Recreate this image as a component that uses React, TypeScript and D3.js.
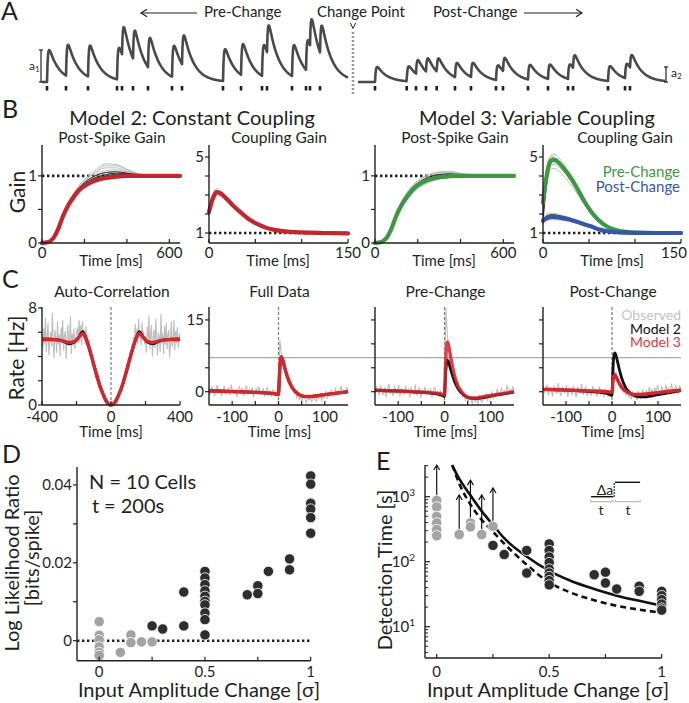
import React from "react";
import * as d3 from "d3";

const FONT = "Lato, 'Open Sans', 'DejaVu Sans', sans-serif";
const INK = "#231f20";
const RED_B = "#c1272d";
const RED_C = "#d3262d";
const GREEN = "#3e9843";
const BLUE = "#3656a6";
const GREY = "#bdbdbd";

// ---------------- Panel A ----------------
const preSpikeTimes = [7, 26, 48, 77, 82, 93, 108, 132, 142, 183, 201, 222, 227, 252, 266, 270, 280];
const postSpikeTimes = [335, 366.7, 376, 386, 396.7, 415, 431, 456, 463, 488, 508, 528, 533, 568, 585, 590];
const preAmplitude = 1;
const postAmplitude = 0.47;
const preWindow = [2, 308];
const postWindow = [318, 625];
const changePointTime = 313;

// ---------------- Panel B ----------------
const tPostSpike = [0, 25, 50, 75, 100, 125, 150, 175, 200, 250, 300, 350, 400, 450, 500, 550, 600, 650];
const m2PostSpikeFit = [0, 0.01, 0.06, 0.2, 0.41, 0.57, 0.69, 0.79, 0.85, 0.93, 0.97, 0.99, 1, 1, 1, 1, 1, 1];
const m2PostSpikeGrey = [
  [0, 0.01, 0.07, 0.22, 0.43, 0.6, 0.74, 0.85, 0.95, 1.08, 1.18, 1.17, 1.1, 1.04, 1.01, 1, 1, 1],
  [0, 0.01, 0.06, 0.21, 0.42, 0.59, 0.72, 0.83, 0.92, 1.04, 1.12, 1.12, 1.07, 1.03, 1.01, 1, 1, 1],
  [0, 0.01, 0.05, 0.19, 0.4, 0.57, 0.7, 0.8, 0.88, 0.98, 1.05, 1.07, 1.05, 1.02, 1.01, 1, 1, 1],
  [0, 0.01, 0.06, 0.2, 0.4, 0.56, 0.68, 0.78, 0.86, 0.95, 1.0, 1.03, 1.03, 1.01, 1, 1, 1, 1],
  [0, 0.01, 0.05, 0.18, 0.38, 0.54, 0.66, 0.76, 0.84, 0.92, 0.97, 1.0, 1.01, 1.01, 1, 1, 1, 1],
  [0, 0.02, 0.08, 0.24, 0.45, 0.62, 0.75, 0.86, 0.94, 1.05, 1.15, 1.15, 1.09, 1.03, 1.01, 1, 1, 1],
  [0, 0.01, 0.05, 0.17, 0.36, 0.52, 0.64, 0.74, 0.82, 0.9, 0.95, 0.98, 1.0, 1.0, 1, 1, 1, 1],
  [0, 0.01, 0.06, 0.21, 0.41, 0.58, 0.71, 0.81, 0.9, 1.01, 1.08, 1.09, 1.06, 1.02, 1.01, 1, 1, 1],
];
const m2PostSpikeBlack = [
  [0, 0.01, 0.06, 0.2, 0.41, 0.58, 0.7, 0.8, 0.88, 0.97, 1.02, 1.04, 1.03, 1.01, 1, 1, 1, 1],
  [0, 0.01, 0.06, 0.2, 0.4, 0.56, 0.68, 0.79, 0.87, 0.96, 1.0, 1.02, 1.02, 1.01, 1, 1, 1, 1],
  [0, 0.01, 0.06, 0.21, 0.42, 0.59, 0.72, 0.82, 0.9, 1.0, 1.05, 1.06, 1.04, 1.02, 1, 1, 1, 1],
  [0, 0.01, 0.05, 0.19, 0.39, 0.55, 0.67, 0.77, 0.85, 0.94, 0.98, 1.0, 1.01, 1.0, 1, 1, 1, 1],
];
const m3PostSpikeFit = [0, 0.01, 0.06, 0.2, 0.41, 0.57, 0.69, 0.79, 0.86, 0.94, 0.98, 0.995, 1, 1, 1, 1, 1, 1];
const m3PostSpikeGrey = [
  [0, 0.01, 0.07, 0.23, 0.44, 0.61, 0.74, 0.84, 0.92, 1.01, 1.06, 1.07, 1.04, 1.02, 1.01, 1, 1, 1],
  [0, 0.01, 0.06, 0.21, 0.42, 0.59, 0.72, 0.82, 0.9, 0.99, 1.04, 1.05, 1.03, 1.01, 1, 1, 1, 1],
  [0, 0.01, 0.05, 0.18, 0.38, 0.54, 0.66, 0.76, 0.83, 0.92, 0.97, 0.99, 1.0, 1.0, 1, 1, 1, 1],
  [0, 0.01, 0.05, 0.17, 0.36, 0.52, 0.64, 0.74, 0.81, 0.9, 0.95, 0.98, 0.99, 1.0, 1, 1, 1, 1],
  [0, 0.02, 0.08, 0.24, 0.46, 0.63, 0.76, 0.86, 0.93, 1.02, 1.05, 1.05, 1.03, 1.01, 1, 1, 1, 1],
  [0, 0.01, 0.06, 0.2, 0.4, 0.56, 0.69, 0.79, 0.87, 0.96, 1.01, 1.03, 1.02, 1.01, 1, 1, 1, 1],
];
const m3PostSpikeBlack = [
  [0, 0.01, 0.06, 0.2, 0.41, 0.58, 0.7, 0.8, 0.87, 0.96, 1.0, 1.02, 1.01, 1.0, 1, 1, 1, 1],
  [0, 0.01, 0.05, 0.19, 0.39, 0.55, 0.67, 0.77, 0.84, 0.93, 0.98, 1.0, 1.01, 1.0, 1, 1, 1, 1],
  [0, 0.01, 0.06, 0.21, 0.43, 0.6, 0.72, 0.82, 0.89, 0.98, 1.02, 1.03, 1.02, 1.01, 1, 1, 1, 1],
];

const tCoupling2 = [0, 4, 8, 12, 18, 26, 35, 44, 53, 62, 72, 85, 100, 125, 150];
const m2CouplingFit = [2.1, 2.8, 3.15, 3.1, 2.85, 2.45, 2.05, 1.7, 1.45, 1.27, 1.15, 1.07, 1.03, 1.0, 0.98];
const m2CouplingGrey = [
  [2.2, 2.95, 3.35, 3.25, 2.95, 2.5, 2.1, 1.72, 1.46, 1.28, 1.16, 1.08, 1.03, 1.0, 0.98],
  [2.0, 2.7, 3.0, 2.98, 2.75, 2.38, 2.0, 1.67, 1.43, 1.26, 1.14, 1.07, 1.03, 1.0, 0.98],
  [2.3, 3.0, 3.25, 3.15, 2.9, 2.5, 2.1, 1.75, 1.49, 1.3, 1.17, 1.08, 1.04, 1.01, 0.99],
  [1.9, 2.6, 2.95, 2.95, 2.8, 2.42, 2.03, 1.68, 1.43, 1.25, 1.13, 1.06, 1.02, 1.0, 0.98],
];
const m2CouplingBlack = [
  [2.1, 2.85, 3.2, 3.12, 2.87, 2.47, 2.06, 1.71, 1.46, 1.28, 1.16, 1.07, 1.03, 1.0, 0.98],
  [2.05, 2.75, 3.1, 3.05, 2.82, 2.43, 2.04, 1.69, 1.44, 1.26, 1.14, 1.06, 1.02, 1.0, 0.98],
];

const tCoupling3 = [0, 3, 6, 10, 14, 20, 28, 36, 44, 52, 60, 70, 80, 90, 100, 125, 150];
const m3PreFit = [2.6, 3.7, 4.5, 4.85, 4.82, 4.55, 4.05, 3.45, 2.75, 2.15, 1.7, 1.33, 1.14, 1.06, 1.02, 1.0, 1.0];
const m3PreGrey = [
  [2.8, 3.9, 4.8, 5.15, 5.1, 4.8, 4.25, 3.6, 2.85, 2.2, 1.72, 1.34, 1.14, 1.06, 1.02, 1.0, 1.0],
  [2.4, 3.5, 4.3, 4.6, 4.58, 4.35, 3.9, 3.3, 2.65, 2.08, 1.66, 1.31, 1.13, 1.05, 1.02, 1.0, 1.0],
  [2.2, 3.3, 4.1, 4.4, 4.38, 4.15, 3.7, 3.15, 2.55, 2.02, 1.62, 1.3, 1.12, 1.05, 1.02, 1.0, 1.0],
  [3.0, 4.1, 4.9, 5.05, 4.95, 4.65, 4.1, 3.5, 2.8, 2.18, 1.7, 1.34, 1.14, 1.06, 1.02, 1.0, 1.0],
];
const m3PreBlack = [
  [1.6, 3.2, 4.4, 4.9, 4.9, 4.6, 4.1, 3.5, 2.8, 2.2, 1.72, 1.35, 1.15, 1.07, 1.03, 1.0, 1.0],
  [1.9, 3.4, 4.5, 4.95, 4.88, 4.55, 4.0, 3.4, 2.7, 2.12, 1.68, 1.32, 1.13, 1.06, 1.02, 1.0, 1.0],
];
const m3PostFit = [1.65, 1.75, 1.82, 1.85, 1.84, 1.8, 1.72, 1.6, 1.47, 1.35, 1.2, 1.09, 1.04, 1.02, 1.01, 1.0, 1.0];
const m3PostGrey = [
  [1.85, 1.95, 2.02, 2.05, 2.02, 1.95, 1.83, 1.68, 1.52, 1.38, 1.23, 1.11, 1.05, 1.02, 1.01, 1.0, 1.0],
  [1.55, 1.62, 1.68, 1.7, 1.7, 1.67, 1.61, 1.52, 1.42, 1.32, 1.18, 1.08, 1.04, 1.02, 1.01, 1.0, 1.0],
];
const m3PostBlack = [
  [1.75, 1.87, 1.94, 1.97, 1.95, 1.89, 1.79, 1.66, 1.51, 1.37, 1.22, 1.1, 1.05, 1.02, 1.01, 1.0, 1.0],
  [1.5, 1.7, 1.85, 1.9, 1.9, 1.85, 1.76, 1.63, 1.49, 1.36, 1.21, 1.1, 1.04, 1.02, 1.01, 1.0, 1.0],
];

// ---------------- Panel C ----------------
const tAuto = [-400, -350, -300, -270, -240, -210, -185, -165, -145, -125, -105, -85, -65, -45, -25, -10, 0,
  10, 25, 45, 65, 85, 105, 125, 145, 165, 185, 210, 240, 270, 300, 350, 400];
const autoModel3 = [5.4, 5.4, 5.35, 5.25, 5.15, 5.25, 5.6, 5.9, 5.45, 4.6, 3.6, 2.55, 1.6, 0.85, 0.25, 0.04, 0,
  0.04, 0.25, 0.85, 1.6, 2.55, 3.6, 4.6, 5.45, 5.9, 5.6, 5.25, 5.15, 5.25, 5.35, 5.4, 5.4];
const autoModel2 = [5.45, 5.42, 5.35, 5.2, 5.05, 5.2, 5.65, 6.05, 5.5, 4.6, 3.6, 2.55, 1.6, 0.85, 0.25, 0.04, 0,
  0.04, 0.25, 0.85, 1.6, 2.55, 3.6, 4.6, 5.5, 6.05, 5.65, 5.2, 5.05, 5.2, 5.35, 5.42, 5.45];
const autoObserved = [
  5.9, 4.6, 6.3, 5.0, 7.2, 4.4, 5.6, 6.8, 4.1, 5.3, 6.0, 4.8, 7.6, 5.1, 3.9, 6.2, 5.5, 4.3, 6.9, 5.0,
  5.8, 4.0, 6.4, 5.2, 7.0, 4.5, 5.7, 6.1, 3.8, 5.4, 6.6, 4.9, 5.3, 7.3, 4.2, 5.9, 5.0, 6.3, 4.6, 5.5, 6.0,
  6.4, 5.1, 7.0, 5.8, 6.6, 4.9, 6.9, 5.5, 6.2, 5.0, 6.5, 5.2, 5.8, 4.7,
  5.4, 4.1, 4.6, 3.2, 4.1, 2.9, 3.5, 2.2, 3.0, 2.0, 2.6, 1.4, 2.0, 1.2,
  1.5, 0.8, 1.2, 0.5, 0.9, 0.3, 0.6, 0.1, 0.3, 0.0, 0.2,
  0.0,
  0.1, 0.3, 0.0, 0.5, 0.2, 0.7, 0.4, 1.0, 0.6, 1.3, 0.9,
  1.6, 1.1, 2.3, 1.7, 2.8, 2.1, 3.4, 2.6, 3.9, 3.0, 4.4, 3.7, 5.0, 4.3,
  5.6, 4.8, 6.7, 5.3, 6.3, 5.0, 7.1, 5.6, 6.0, 4.9, 6.8, 5.4, 6.1, 5.0,
  5.7, 4.3, 6.5, 5.0, 7.4, 4.6, 5.9, 6.6, 4.0, 5.5, 6.2, 4.7, 7.1, 5.3, 4.1, 6.0, 5.6, 4.4, 7.5, 5.1,
  5.9, 4.2, 6.5, 5.0, 6.8, 4.6, 5.8, 6.2, 3.9, 5.4, 6.9, 4.8, 5.2, 7.0, 4.5, 6.1, 5.1, 6.4, 4.7, 5.6, 5.9,
];

const tCross = [-150, -120, -90, -60, -30, -10, -3, 0, 2, 4, 6, 8, 12, 16, 20, 25, 30, 40, 50, 60, 70, 80, 100, 125, 150];
const fullModel3 = [0.2, 0.1, 0.0, -0.1, -0.25, -0.4, -0.55, -0.6, 3.5, 6.4, 7.3, 7.0, 5.6, 4.1, 2.9, 1.7, 0.8, -0.3, -0.85, -1.0, -1.0, -0.9, -0.6, -0.3, 0.0];
const fullModel2 = [0.2, 0.1, 0.0, -0.1, -0.25, -0.42, -0.58, -0.62, 3.4, 6.3, 7.2, 6.95, 5.55, 4.1, 2.9, 1.7, 0.8, -0.3, -0.85, -1.0, -1.0, -0.9, -0.6, -0.3, 0.0];
const preModel3 = [0.3, 0.2, 0.1, 0.0, -0.2, -0.4, -0.6, -0.7, 5.0, 9.0, 10.4, 10.0, 8.0, 5.8, 4.0, 2.3, 1.0, -0.4, -1.1, -1.3, -1.3, -1.1, -0.8, -0.4, 0.0];
const preModel2 = [0.3, 0.2, 0.1, -0.1, -0.3, -0.6, -0.9, -1.0, 3.0, 5.6, 6.6, 6.4, 5.1, 3.8, 2.6, 1.4, 0.5, -0.6, -1.2, -1.4, -1.4, -1.3, -0.9, -0.5, -0.1];
const postModel3 = [0.5, 0.4, 0.3, 0.2, 0.1, 0.0, -0.1, -0.1, 2.0, 3.2, 3.5, 3.3, 2.5, 1.7, 1.1, 0.5, 0.1, -0.4, -0.6, -0.6, -0.5, -0.4, -0.2, 0.1, 0.3];
const postModel2 = [0.5, 0.4, 0.3, 0.1, -0.1, -0.4, -0.7, -0.8, 4.5, 7.4, 8.1, 7.8, 6.3, 4.6, 3.2, 1.8, 0.8, -0.3, -0.9, -1.1, -1.1, -1.0, -0.6, -0.2, 0.2];
const fullObserved = [
  0.8, -0.6, 1.1, 0.2, -0.9, 0.5, 1.4, -0.3, 0.7, -1.0, 0.3, 1.2, -0.5, 0.0, 0.9, -0.8, 1.5, 0.1, -0.4, 0.6,
  -1.1, 0.4, 1.0, -0.2, 0.8, -0.9, 0.2, 1.3, -0.6, 0.5, -0.3, 0.9, -1.2, 0.1, 0.7, -0.5, 1.1, -0.8, 0.0, 0.6,
  -1.0, 0.3, 0.9, -0.7, 0.2, -1.1, 0.5, -0.4, 0.1, -0.9,
  1.5,
  10.8, 8.0, 6.2, 5.8, 3.8, 4.1, 2.5, 2.0, 0.8, 1.2, -0.2, 0.3, -1.2, -0.4, -1.8, -0.6, -2.0, -0.9, -1.5, -2.3,
  -0.7, -1.8, -1.1, -2.2, -0.5, -1.6, -2.0, -0.8, -1.4, -0.3, -1.9, -0.6, -1.2, 0.2, -1.5, -0.4, -0.9, 0.5, -1.1, -0.2,
  0.6, -0.8, 0.3, -0.5, 1.2, -0.3, 0.4, -0.6, 1.0, 0.1,
];
const preObserved = [
  -0.4, 1.0, 0.3, -0.8, 1.3, 0.0, -0.6, 0.9, -1.2, 0.5, 1.6, -0.3, 0.2, -0.9, 1.1, 0.4, -0.5, 1.4, -1.0, 0.7,
  0.1, -0.7, 1.2, -0.2, 0.6, -1.1, 0.9, 0.2, -0.4, 1.5, -0.8, 0.3, 0.8, -1.3, 0.4, -0.1, 1.0, -0.9, 0.5, -0.5,
  0.7, -1.2, 0.2, 0.9, -0.6, -0.1, -1.0, 0.3, -0.8, -0.4,
  2.0,
  17.5, 12.0, 9.5, 8.8, 6.0, 5.5, 3.6, 3.0, 1.4, 1.9, 0.2, 0.8, -1.0, -0.2, -1.9, -0.8, -2.3, -1.0, -1.7, -2.5,
  -0.9, -2.1, -1.3, -2.6, -0.6, -1.8, -2.2, -1.0, -1.5, -0.4, -2.0, -0.7, -1.4, 0.1, -1.6, -0.5, -1.0, 0.6, -1.2, -0.3,
  0.8, -0.7, 0.2, -0.6, 1.4, -0.2, 0.5, -0.5, 1.1, 0.2,
];
const postObserved = [
  1.2, -0.3, 0.6, 1.5, -0.8, 0.9, 0.2, -1.0, 1.3, 0.4, -0.5, 1.8, 0.0, -0.9, 1.0, 0.5, -0.4, 1.4, -1.1, 0.8,
  0.2, -0.6, 1.1, 0.3, -1.2, 0.9, 0.6, -0.3, 1.6, -0.7, 0.4, 1.0, -0.9, 0.5, 0.1, -0.8, 1.2, -0.2, 0.7, -1.0,
  0.4, 0.9, -0.6, 0.2, -1.1, 0.5, -0.3, -0.9, 0.1, -0.6,
  0.8,
  5.5, 3.2, 4.2, 2.0, 2.8, 0.9, 1.6, -0.2, 0.8, -0.9, 0.4, -1.3, -0.2, -1.6, 0.1, -1.1, -0.4, -1.8, 0.2, -0.9,
  -1.4, 0.5, -0.6, -1.2, 0.3, -0.8, 1.0, -0.5, 0.6, -1.0, 0.9, -0.2, 1.4, 0.0, -0.7, 1.1, 0.3, -0.4, 1.5, 0.2,
  0.8, -0.6, 1.7, 0.4, -0.2, 1.2, 0.6, -0.5, 1.3, 0.5,
];
const fullDataPeakRate = 7.1;

// ---------------- Panel D ----------------
const llrGrey: [number, number][] = [
  [0, 0.0049], [0, 0.0014], [0, 0.0002], [0, -0.0016], [0, -0.003], [0, -0.0038],
  [0.1, -0.003], [0.15, 0.0015], [0.15, -0.0005], [0.2, -0.0003], [0.25, -0.0003],
];
const llrBlack: [number, number][] = [
  [0.25, 0.0038], [0.3, 0.003], [0.4, 0.0125], [0.4, 0.0038],
  [0.5, 0.0178], [0.5, 0.0161], [0.5, 0.0144], [0.5, 0.0128], [0.5, 0.0114], [0.5, 0.0101], [0.5, 0.0092],
  [0.5, 0.0071], [0.5, 0.0054], [0.5, 0.0015],
  [0.7, 0.0118], [0.75, 0.0141], [0.75, 0.0121], [0.8, 0.0178], [0.9, 0.021], [0.9, 0.0182],
  [1, 0.0423], [1, 0.0402], [1, 0.0353], [1, 0.0338], [1, 0.0316], [1, 0.0276],
];

// ---------------- Panel E ----------------
const detGrey: [number, number][] = [
  [0, 877], [0, 695], [0, 499], [0, 395], [0, 312], [0, 251],
  [0.1, 262], [0.15, 395], [0.15, 343], [0.2, 262], [0.25, 350],
];
const detBlack: [number, number][] = [
  [0.25, 178], [0.3, 129], [0.4, 149], [0.4, 67],
  [0.5, 188], [0.5, 149], [0.5, 118], [0.5, 97], [0.5, 77], [0.5, 67], [0.5, 59], [0.5, 51], [0.5, 44],
  [0.7, 63], [0.75, 69], [0.75, 47], [0.8, 38], [0.9, 42], [0.9, 35],
  [1, 35], [1, 30], [1, 26], [1, 22.3], [1, 19.3], [1, 18],
];
const lowerBoundArrows: [number, number, number][] = [
  [0, 1000, 3070], [0.1, 262, 1062], [0.15, 420, 1800], [0.2, 262, 1062], [0.25, 360, 1360],
];
const theorySolid: [number, number][] = [
  [0.068, 3070], [0.1, 1900], [0.15, 1050], [0.2, 600], [0.25, 370], [0.3, 230], [0.4, 120], [0.5, 72],
  [0.6, 50], [0.7, 38], [0.8, 30], [0.9, 25], [1.0, 21],
];
const theoryDashed: [number, number][] = [
  [0.07, 3070], [0.1, 1600], [0.15, 760], [0.2, 440], [0.25, 290], [0.3, 190], [0.4, 90], [0.5, 48],
  [0.6, 33], [0.7, 25.5], [0.8, 21], [0.9, 18.3], [1.0, 16.4],
];

// ------------------------------------------------------------
type Scale = d3.ScaleLinear<number, number> | d3.ScaleLogarithmic<number, number>;

function pspTrace(spikes: number[], amp: number, t0: number, t1: number): [number, number][] {
  const tauD = 10, tauR = 0.8;
  const sPeak = ((tauR * tauD) / (tauD - tauR)) * Math.log(tauD / tauR);
  const norm = Math.exp(-sPeak / tauD) - Math.exp(-sPeak / tauR);
  const out: [number, number][] = [];
  for (let t = t0; t <= t1 + 1e-9; t += 0.5) {
    let v = 0;
    for (const s of spikes) {
      const d = t - s;
      if (d > 0) v += (amp * (Math.exp(-d / tauD) - Math.exp(-d / tauR))) / norm;
    }
    out.push([t, v]);
  }
  return out;
}

function series(xs: Scale, ys: Scale, ts: number[], vs: number[], curve: d3.CurveFactory = d3.curveMonotoneX) {
  return d3.line<number>().x((_, i) => xs(ts[i])).y((v) => ys(v)).curve(curve)(vs) ?? "";
}
function pairs(xs: Scale, ys: Scale, pts: [number, number][], curve: d3.CurveFactory = d3.curveMonotoneX) {
  return d3.line<[number, number]>().x((d) => xs(d[0])).y((d) => ys(d[1])).curve(curve)(pts) ?? "";
}

function XAxis({ scale, y, ticks, labels, dy = 16, fs = 15, lastEnd }: { scale: Scale; y: number; ticks: number[]; labels: [number, string][]; dy?: number; fs?: number; lastEnd?: number }) {
  const [r0, r1] = scale.range();
  return (
    <g>
      <line x1={r0} x2={r1} y1={y} y2={y} stroke={INK} strokeWidth={1.4} />
      {ticks.map((t) => (
        <line key={t} x1={scale(t)} x2={scale(t)} y1={y} y2={y - 4} stroke={INK} strokeWidth={1.2} />
      ))}
      {labels.map(([v, s], i) =>
        lastEnd !== undefined && i === labels.length - 1 ? (
          <text key={s} x={lastEnd} y={y + dy} textAnchor="end" fontSize={fs} fill={INK}>{s}</text>
        ) : (
          <text key={s} x={scale(v)} y={y + dy} textAnchor="middle" fontSize={fs} fill={INK}>{s}</text>
        )
      )}
    </g>
  );
}

function YAxis({ scale, x, ticks, labels, fs = 15 }: { scale: Scale; x: number; ticks: number[]; labels: [number, string][]; fs?: number }) {
  const [r0, r1] = scale.range();
  return (
    <g>
      <line x1={x} x2={x} y1={r0} y2={r1} stroke={INK} strokeWidth={1.4} />
      {ticks.map((t) => (
        <line key={t} x1={x - 4} x2={x} y1={scale(t)} y2={scale(t)} stroke={INK} strokeWidth={1.2} />
      ))}
      {labels.map(([v, s]) => (
        <text key={s} x={x - 5} y={scale(v) + 5} textAnchor="end" fontSize={fs} fill={INK}>{s}</text>
      ))}
    </g>
  );
}

function Bundle({ xs, ys, ts, grey, black, fit, color }: { xs: Scale; ys: Scale; ts: number[]; grey: number[][]; black: number[][]; fit: number[]; color: string }) {
  return (
    <g fill="none">
      {grey.map((g, i) => (
        <path key={"g" + i} d={series(xs, ys, ts, g)} stroke="#b5b5b5" strokeWidth={0.9} />
      ))}
      {black.map((g, i) => (
        <path key={"b" + i} d={series(xs, ys, ts, g)} stroke="#262626" strokeWidth={1} />
      ))}
      <path d={series(xs, ys, ts, fit)} stroke={color} strokeWidth={4.2} strokeLinecap="round" />
    </g>
  );
}

function Sup({ x, y, base, exp }: { x: number; y: number; base: string; exp: string }) {
  return (
    <text x={x} y={y} textAnchor="end" fontSize={15} fill={INK}>
      {base}
      <tspan fontSize={10} dy={-6}>{exp}</tspan>
    </text>
  );
}

export default function App() {
  // ---- Panel A scales
  const xA = d3.scaleLinear().domain([0, 625]).range([40, 665]);
  const yA = d3.scaleLinear().domain([0, 1]).range([82, 50]);
  const preTrace = pspTrace(preSpikeTimes, preAmplitude, preWindow[0], preWindow[1]);
  const postTrace = pspTrace(postSpikeTimes, postAmplitude, postWindow[0], postWindow[1]);
  const lineA = d3.line<[number, number]>().x((d) => xA(d[0])).y((d) => yA(d[1]));

  // ---- Panel B scales
  const xB1 = d3.scaleLinear().domain([0, 650]).range([42, 180]);
  const xB2 = d3.scaleLinear().domain([0, 150]).range([209, 348]);
  const xB3 = d3.scaleLinear().domain([0, 650]).range([375, 514]);
  const xB4 = d3.scaleLinear().domain([0, 150]).range([543, 681]);
  const yBg = d3.scaleLinear().domain([0, 1.46]).range([243, 145]);
  const yBc = d3.scaleLinear().domain([0.474, 5.632]).range([243, 145]);

  // ---- Panel C scales
  const xC1 = d3.scaleLinear().domain([-400, 400]).range([42, 180]);
  const xC2 = d3.scaleLinear().domain([-150, 150]).range([209, 348]);
  const xC3 = d3.scaleLinear().domain([-150, 150]).range([375, 514]);
  const xC4 = d3.scaleLinear().domain([-150, 150]).range([543, 681]);
  const yC1 = d3.scaleLinear().domain([0, 8.08]).range([405, 307]);
  const yCx = d3.scaleLinear().domain([-2.78, 17.7]).range([405, 307]);
  const tAutoObs = autoObserved.map((_, i) => -400 + (i * 800) / (autoObserved.length - 1));
  const tCrossObs = fullObserved.map((_, i) => -150 + (i * 300) / (fullObserved.length - 1));

  // ---- Panel D scales
  const xD = d3.scaleLinear().domain([-0.105, 1]).range([77, 310.7]);
  const yD = d3.scaleLinear().domain([-0.00514, 0.0446]).range([660.7, 467]);

  // ---- Panel E scales
  const xE = d3.scaleLinear().domain([-0.052, 1]).range([425, 661.7]);
  const yE = d3.scaleLog().domain([Math.pow(10, 0.518), Math.pow(10, 3.488)]).range([658, 465]);
  const minorE: number[] = [];
  [1, 10, 100, 1000].forEach((d) => {
    for (let k = 2; k <= 9; k++) {
      const v = d * k;
      if (v >= yE.domain()[0] && v <= yE.domain()[1]) minorE.push(v);
    }
  });

  const crossPanels = [
    { xs: xC2, obs: fullObserved, m2: fullModel2, m3: fullModel3, title: "Full Data" },
    { xs: xC3, obs: preObserved, m2: preModel2, m3: preModel3, title: "Pre-Change" },
    { xs: xC4, obs: postObserved, m2: postModel2, m3: postModel3, title: "Post-Change" },
  ];

  const dotLine = { stroke: INK, strokeWidth: 2.6, strokeDasharray: "2.4 2.6", fill: "none" } as const;

  return (
    <svg width={689} height={703} style={{ position: "absolute", left: 0, top: 0, background: "#fff" }} fontFamily={FONT}>
      <rect x={0} y={0} width={689} height={703} fill="#fff" />

      {/* ================= A ================= */}
      <text x={1} y={20} fontSize={25} fill={INK}>A</text>
      <line x1={141} x2={197} y1={13} y2={13} stroke={INK} strokeWidth={1.2} />
      <polyline points="147,9.3 141,13 147,16.7" fill="none" stroke={INK} strokeWidth={1.2} />
      <text x={204} y={17} fontSize={15} fill={INK}>Pre-Change</text>
      <text x={xA(changePointTime) + 8} y={17} fontSize={15} textAnchor="middle" fill={INK}>Change Point</text>
      <polyline points={`${xA(changePointTime) - 2.6},23 ${xA(changePointTime)},28.5 ${xA(changePointTime) + 2.6},23`} fill="none" stroke={INK} strokeWidth={1} />
      <text x={433} y={17} fontSize={15} fill={INK}>Post-Change</text>
      <line x1={524} x2={582} y1={13} y2={13} stroke={INK} strokeWidth={1.2} />
      <polyline points="576,9.3 582,13 576,16.7" fill="none" stroke={INK} strokeWidth={1.2} />
      <line x1={xA(changePointTime)} x2={xA(changePointTime)} y1={32} y2={96} stroke="#9a9a9a" strokeWidth={2.6} strokeDasharray="2 2" />
      <path d={lineA(preTrace) ?? ""} fill="none" stroke="#4a4a4a" strokeWidth={2.6} strokeLinejoin="round" />
      <path d={lineA(postTrace) ?? ""} fill="none" stroke="#4a4a4a" strokeWidth={2.6} strokeLinejoin="round" />
      {preSpikeTimes.concat(postSpikeTimes).map((t, i) => (
        <rect key={i} x={xA(t) - 1.3} y={86} width={2.6} height={4.5} fill={INK} />
      ))}
      {/* amplitude brackets */}
      <g stroke={INK} strokeWidth={1.2}>
        <line x1={xA(1)} x2={xA(1)} y1={yA(0)} y2={yA(preAmplitude)} />
        <line x1={xA(1) - 2} x2={xA(1) + 2} y1={yA(0)} y2={yA(0)} />
        <line x1={xA(1) - 2} x2={xA(1) + 2} y1={yA(preAmplitude)} y2={yA(preAmplitude)} />
        <line x1={xA(626)} x2={xA(626)} y1={yA(0)} y2={yA(postAmplitude)} />
        <line x1={xA(626) - 2} x2={xA(626) + 2} y1={yA(0)} y2={yA(0)} />
        <line x1={xA(626) - 2} x2={xA(626) + 2} y1={yA(postAmplitude)} y2={yA(postAmplitude)} />
      </g>
      <text x={29} y={70} fontSize={12} fill={INK}>a<tspan fontSize={8} dy={2}>1</tspan></text>
      <text x={671} y={77} fontSize={12} fill={INK}>a<tspan fontSize={8} dy={2}>2</tspan></text>

      {/* ================= B ================= */}
      <text x={2} y={118} fontSize={25} fill={INK}>B</text>
      <text x={192} y={125} fontSize={20} textAnchor="middle" fill={INK}>Model 2: Constant Coupling</text>
      <text x={537} y={125} fontSize={20} textAnchor="middle" fill={INK}>Model 3: Variable Coupling</text>
      <text x={112} y={143} fontSize={15.5} textAnchor="middle" fill={INK}>Post-Spike Gain</text>
      <text x={279} y={143} fontSize={15.5} textAnchor="middle" fill={INK}>Coupling Gain</text>
      <text x={455} y={143} fontSize={15.5} textAnchor="middle" fill={INK}>Post-Spike Gain</text>
      <text x={625} y={143} fontSize={15.5} textAnchor="middle" fill={INK}>Coupling Gain</text>
      <text transform="translate(25,192) rotate(-90)" fontSize={21} textAnchor="middle" fill={INK}>Gain</text>

      {/* B1 */}
      <line x1={xB1(0)} x2={xB1(650)} y1={yBg(1)} y2={yBg(1)} {...dotLine} />
      <Bundle xs={xB1} ys={yBg} ts={tPostSpike} grey={m2PostSpikeGrey} black={m2PostSpikeBlack} fit={m2PostSpikeFit} color={RED_B} />
      <YAxis scale={yBg} x={42} ticks={[0, 0.5, 1]} labels={[[0, "0"], [1, "1"]]} />
      <XAxis scale={xB1} y={243} ticks={[0, 200, 400, 600]} labels={[[0, "0"], [600, "600"]]} dy={15} />
      <text x={111} y={266} fontSize={15} textAnchor="middle" fill={INK}>Time [ms]</text>

      {/* B2 */}
      <line x1={xB2(0)} x2={xB2(150)} y1={yBc(1)} y2={yBc(1)} {...dotLine} />
      <Bundle xs={xB2} ys={yBc} ts={tCoupling2} grey={m2CouplingGrey} black={m2CouplingBlack} fit={m2CouplingFit} color={RED_B} />
      <YAxis scale={yBc} x={209} ticks={[1, 2, 3, 4, 5]} labels={[[1, "1"], [5, "5"]]} />
      <XAxis scale={xB2} y={243} ticks={[0, 50, 100, 150]} labels={[[0, "0"], [150, "150"]]} dy={15} />
      <text x={278} y={266} fontSize={15} textAnchor="middle" fill={INK}>Time [ms]</text>

      {/* B3 */}
      <line x1={xB3(0)} x2={xB3(650)} y1={yBg(1)} y2={yBg(1)} {...dotLine} />
      <Bundle xs={xB3} ys={yBg} ts={tPostSpike} grey={m3PostSpikeGrey} black={m3PostSpikeBlack} fit={m3PostSpikeFit} color={GREEN} />
      <YAxis scale={yBg} x={375} ticks={[0, 0.5, 1]} labels={[[0, "0"], [1, "1"]]} />
      <XAxis scale={xB3} y={243} ticks={[0, 200, 400, 600]} labels={[[0, "0"], [600, "600"]]} dy={15} />
      <text x={444} y={266} fontSize={15} textAnchor="middle" fill={INK}>Time [ms]</text>

      {/* B4 */}
      <line x1={xB4(0)} x2={xB4(150)} y1={yBc(1)} y2={yBc(1)} {...dotLine} />
      <Bundle xs={xB4} ys={yBc} ts={tCoupling3} grey={m3PreGrey} black={m3PreBlack} fit={m3PreFit} color={GREEN} />
      <Bundle xs={xB4} ys={yBc} ts={tCoupling3} grey={m3PostGrey} black={m3PostBlack} fit={m3PostFit} color={BLUE} />
      <YAxis scale={yBc} x={543} ticks={[1, 2, 3, 4, 5]} labels={[[1, "1"], [5, "5"]]} />
      <XAxis scale={xB4} y={243} ticks={[0, 50, 100, 150]} labels={[[0, "0"], [150, "150"]]} dy={15} lastEnd={687} />
      <text x={612} y={266} fontSize={15} textAnchor="middle" fill={INK}>Time [ms]</text>
      <text x={680} y={177} fontSize={15} textAnchor="end" fill={GREEN}>Pre-Change</text>
      <text x={680} y={192} fontSize={15} textAnchor="end" fill={BLUE}>Post-Change</text>

      {/* ================= C ================= */}
      <text x={2} y={288} fontSize={25} fill={INK}>C</text>
      <text x={112} y={297} fontSize={15.5} textAnchor="middle" fill={INK}>Auto-Correlation</text>
      {crossPanels.map((p) => (
        <text key={p.title} x={p.xs(0) + 1} y={297} fontSize={15.5} textAnchor="middle" fill={INK}>{p.title}</text>
      ))}
      <text transform="translate(24,358) rotate(-90)" fontSize={21} textAnchor="middle" fill={INK}>Rate [Hz]</text>

      {/* C1 */}
      <line x1={xC1(0)} x2={xC1(0)} y1={307} y2={405} stroke="#7a7a7a" strokeWidth={1.2} strokeDasharray="3 2" />
      <path d={series(xC1, yC1, tAutoObs, autoObserved, d3.curveLinear)} fill="none" stroke={GREY} strokeWidth={1.1} />
      <path d={series(xC1, yC1, tAuto, autoModel2)} fill="none" stroke="#111" strokeWidth={2.8} />
      <path d={series(xC1, yC1, tAuto, autoModel3)} fill="none" stroke={RED_C} strokeWidth={3.4} />
      <YAxis scale={yC1} x={42} ticks={[0, 2, 4, 6, 8]} labels={[[0, "0"], [8, "8"]]} />
      <XAxis scale={xC1} y={405} ticks={[-400, -200, 0, 200, 400]} labels={[[-400, "-400"], [0, "0"], [400, "400"]]} dy={17} />
      <text x={111} y={437} fontSize={15} textAnchor="middle" fill={INK}>Time [ms]</text>

      {/* C2-C4 */}
      <line x1={xC2(-150)} x2={xC4(150)} y1={yCx(fullDataPeakRate)} y2={yCx(fullDataPeakRate)} stroke="#ababab" strokeWidth={1.3} />
      {crossPanels.map((p, k) => (
        <g key={p.title}>
          <line x1={p.xs(0)} x2={p.xs(0)} y1={307} y2={405} stroke="#7a7a7a" strokeWidth={1.2} strokeDasharray="3 2" />
          <path d={series(p.xs, yCx, tCrossObs, p.obs, d3.curveLinear)} fill="none" stroke={GREY} strokeWidth={1.1} />
          <path d={series(p.xs, yCx, tCross, p.m2)} fill="none" stroke="#111" strokeWidth={2.8} />
          <path d={series(p.xs, yCx, tCross, p.m3)} fill="none" stroke={RED_C} strokeWidth={3.4} strokeOpacity={k === 1 ? 0.85 : 1} />
          <YAxis scale={yCx} x={p.xs(-150)} ticks={[0, 5, 10, 15]} labels={k === 0 ? [[0, "0"], [15, "15"]] : []} />
          <XAxis scale={p.xs} y={405} ticks={[-100, -50, 0, 50, 100]} labels={[[-100, "-100"], [0, "0"], [100, "100"]]} dy={17} />
          <text x={p.xs(0) + 1} y={437} fontSize={15} textAnchor="middle" fill={INK}>Time [ms]</text>
        </g>
      ))}
      <text x={681} y={320} fontSize={14} textAnchor="end" fill="#c4c4c4">Observed</text>
      <text x={681} y={333.5} fontSize={14} textAnchor="end" fill="#111">Model 2</text>
      <text x={681} y={347} fontSize={14} textAnchor="end" fill="#e0383e">Model 3</text>

      {/* ================= D ================= */}
      <text x={2} y={463} fontSize={25} fill={INK}>D</text>
      <line x1={77} x2={310.7} y1={yD(0)} y2={yD(0)} {...dotLine} />
      {llrGrey.map((d, i) => (
        <circle key={"dg" + i} cx={xD(d[0])} cy={yD(d[1])} r={5.2} fill="#a3a3a3" stroke="#fff" strokeWidth={0.8} />
      ))}
      {llrBlack.map((d, i) => (
        <circle key={"db" + i} cx={xD(d[0])} cy={yD(d[1])} r={5.2} fill="#2e2e2e" stroke="#fff" strokeWidth={0.8} />
      ))}
      <YAxis scale={yD} x={77} ticks={[0, 0.01, 0.02, 0.03, 0.04]} labels={[[0, "0"], [0.02, "0.02"], [0.04, "0.04"]]} />
      <XAxis scale={xD} y={660.7} ticks={[0, 0.25, 0.5, 0.75, 1]} labels={[[0, "0"], [0.5, "0.5"], [1, "1"]]} dy={16.5} />
      <text x={89} y={489} fontSize={20} fill={INK}>N = 10 Cells</text>
      <text x={92} y={513} fontSize={20} fill={INK}>t</text>
      <text x={104} y={513} fontSize={20} fill={INK}>= 200s</text>
      <text transform="translate(19,563) rotate(-90)" fontSize={20} textAnchor="middle" fill={INK}>Log Likelihood Ratio</text>
      <text transform="translate(39,558) rotate(-90)" fontSize={20} textAnchor="middle" fill={INK}>[bits/spike]</text>
      <text x={199} y={697} fontSize={20} textAnchor="middle" fill={INK}>Input Amplitude Change [σ]</text>

      {/* ================= E ================= */}
      <text x={376} y={470} fontSize={25} fill={INK}>E</text>
      <path d={pairs(xE, yE, theorySolid)} fill="none" stroke="#111" strokeWidth={2.6} />
      <path d={pairs(xE, yE, theoryDashed)} fill="none" stroke="#111" strokeWidth={2.6} strokeDasharray="6 4" />
      {lowerBoundArrows.map(([x, y0, y1], i) => (
        <g key={"ar" + i} stroke="#111" strokeWidth={1.2} fill="none">
          <line x1={xE(x)} x2={xE(x)} y1={yE(y0)} y2={yE(y1)} />
          <polyline points={`${xE(x) - 3},${yE(y1) + 5} ${xE(x)},${yE(y1)} ${xE(x) + 3},${yE(y1) + 5}`} />
        </g>
      ))}
      {detGrey.map((d, i) => (
        <circle key={"eg" + i} cx={xE(d[0])} cy={yE(d[1])} r={5.2} fill="#a3a3a3" stroke="#fff" strokeWidth={0.8} />
      ))}
      {detBlack.map((d, i) => (
        <circle key={"eb" + i} cx={xE(d[0])} cy={yE(d[1])} r={5.2} fill="#2e2e2e" stroke="#fff" strokeWidth={0.8} />
      ))}
      {/* log y axis */}
      <line x1={425} x2={425} y1={658} y2={465} stroke={INK} strokeWidth={1.4} />
      {[10, 100, 1000].map((v) => (
        <line key={"M" + v} x1={425} x2={430} y1={yE(v)} y2={yE(v)} stroke={INK} strokeWidth={1.2} />
      ))}
      {minorE.map((v) => (
        <line key={"m" + v} x1={425} x2={428} y1={yE(v)} y2={yE(v)} stroke={INK} strokeWidth={1} />
      ))}
      <Sup x={415} y={yE(10) + 5} base="10" exp="1" />
      <Sup x={415} y={yE(100) + 5} base="10" exp="2" />
      <Sup x={415} y={yE(1000) + 5} base="10" exp="3" />
      <XAxis scale={xE} y={658} ticks={[0, 0.25, 0.5, 0.75, 1]} labels={[[0, "0"], [0.5, "0.5"], [1, "1"]]} dy={19} />
      <text x={548} y={697} fontSize={20} textAnchor="middle" fill={INK}>Input Amplitude Change [σ]</text>
      <text transform="translate(392,570) rotate(-90)" fontSize={20} textAnchor="middle" fill={INK}>Detection Time [s]</text>
      {/* inset schematic */}
      <g fill="none">
        <line x1={xE(0.686)} x2={xE(0.785)} y1={yE(1000)} y2={yE(1000)} stroke="#111" strokeWidth={1.4} />
        <line x1={xE(0.789)} x2={xE(0.789)} y1={yE(1000)} y2={yE(1667)} stroke="#111" strokeWidth={1.4} strokeDasharray="1.5 1.5" />
        <line x1={xE(0.792)} x2={xE(0.904)} y1={yE(1667)} y2={yE(1667)} stroke="#111" strokeWidth={1.4} />
        <polyline points={`${xE(0.686)},${yE(838) - 2} ${xE(0.686)},${yE(838)} ${xE(0.783)},${yE(838)} ${xE(0.783)},${yE(838) - 2}`} stroke="#c8bc9c" strokeWidth={1.3} />
        <polyline points={`${xE(0.795)},${yE(838) - 2} ${xE(0.795)},${yE(838)} ${xE(0.904)},${yE(838)} ${xE(0.904)},${yE(838) - 2}`} stroke="#c8bc9c" strokeWidth={1.3} />
      </g>
      <text x={xE(0.748)} y={yE(1062)} fontSize={14} textAnchor="middle" fill={INK}>Δa</text>
      <text x={xE(0.73)} y={yE(523)} fontSize={14} textAnchor="middle" fill={INK}>t</text>
      <text x={xE(0.85)} y={yE(523)} fontSize={14} textAnchor="middle" fill={INK}>t</text>
    </svg>
  );
}
